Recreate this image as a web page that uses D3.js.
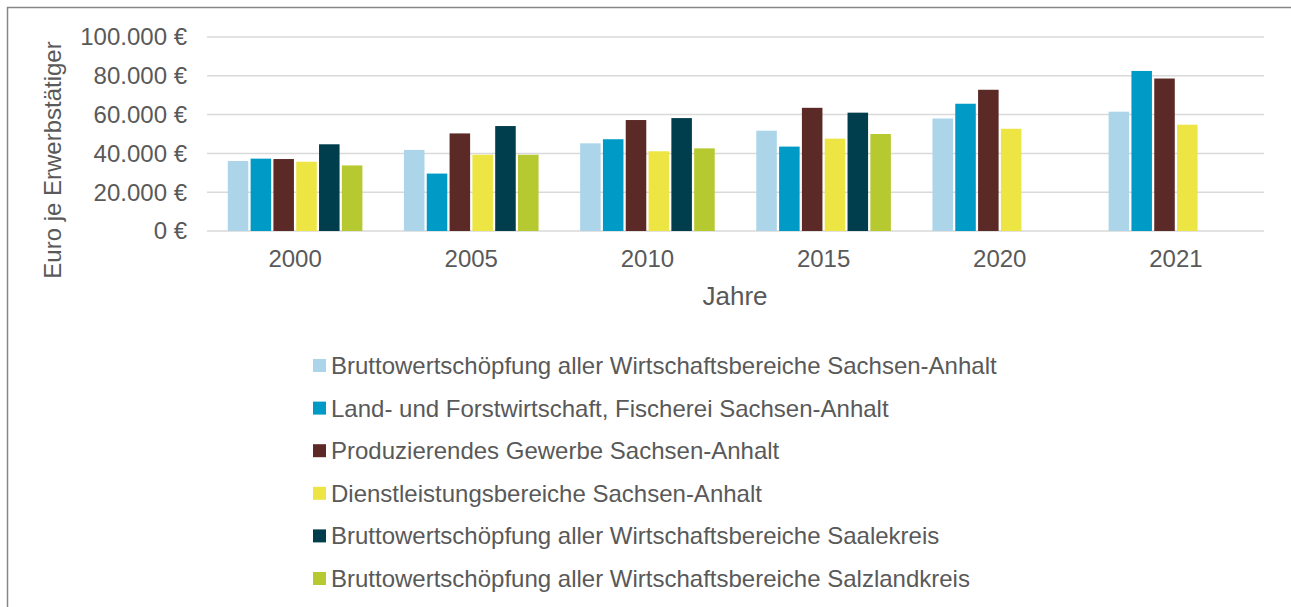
<!DOCTYPE html>
<html>
<head>
<meta charset="utf-8">
<script src="https://cdn.jsdelivr.net/npm/d3@7/dist/d3.min.js"></script>
<style>
  html, body { margin: 0; padding: 0; background: #fff; }
  svg { display: block; font-family: "Liberation Sans", Arial, sans-serif; }
</style>
</head>
<body>
<svg id="chart" width="1291" height="607"></svg>
<script>
const years = ["2000", "2005", "2010", "2015", "2020", "2021"];
const seriesNames = [
  "Bruttowertschöpfung aller Wirtschaftsbereiche Sachsen-Anhalt",
  "Land- und Forstwirtschaft, Fischerei Sachsen-Anhalt",
  "Produzierendes Gewerbe Sachsen-Anhalt",
  "Dienstleistungsbereiche Sachsen-Anhalt",
  "Bruttowertschöpfung aller Wirtschaftsbereiche Saalekreis",
  "Bruttowertschöpfung aller Wirtschaftsbereiche Salzlandkreis"
];
const bwsSachsenAnhalt   = [36100, 41800, 45200, 51700, 58000, 61500];
const landForst          = [37300, 29600, 47300, 43500, 65600, 82500];
const produzierend       = [37100, 50300, 57200, 63500, 72800, 78600];
const dienstleistung     = [35700, 39300, 41100, 47600, 52700, 54800];
const bwsSaalekreis      = [44700, 54100, 58200, 61000, null, null];
const bwsSalzlandkreis   = [33800, 39300, 42600, 50000, null, null];
const seriesValues = [bwsSachsenAnhalt, landForst, produzierend, dienstleistung, bwsSaalekreis, bwsSalzlandkreis];
const colors = ["#ADD5EA", "#009AC6", "#5B2A26", "#EDE544", "#003D4D", "#B7C931"];
const yTicks = [0, 20000, 40000, 60000, 80000, 100000];

const svg = d3.select("#chart");

// outer border
svg.append("rect")
  .attr("x", 7.5).attr("y", 7.5)
  .attr("width", 1300).attr("height", 620)
  .attr("fill", "none").attr("stroke", "#878787").attr("stroke-width", 1.5);

const plotLeft = 207, plotRight = 1264, plotTop = 37, plotBottom = 231;

const y = d3.scaleLinear().domain([0, 100000]).range([plotBottom, plotTop]);
const x0 = d3.scaleBand().domain(years).range([plotLeft, plotRight])
  .paddingInner(0.223).paddingOuter(0.1115);
const x1 = d3.scaleBand().domain(d3.range(seriesNames.length)).range([0, x0.bandwidth()])
  .paddingInner(0.1).paddingOuter(0.05);

// gridlines
svg.append("g").selectAll("line").data(yTicks).join("line")
  .attr("x1", plotLeft).attr("x2", plotRight)
  .attr("y1", d => y(d)).attr("y2", d => y(d))
  .attr("stroke", "#D9D9D9").attr("stroke-width", 1.5);

// y tick labels
const fmt = d => d3.format(",")(d).replace(/,/g, ".") + " €";
svg.append("g").selectAll("text").data(yTicks).join("text")
  .attr("x", 187).attr("y", d => y(d)).attr("dy", "0.35em")
  .attr("text-anchor", "end").attr("font-size", 24).attr("fill", "#595959")
  .text(fmt);

// bars
const groups = svg.append("g").selectAll("g").data(years).join("g")
  .attr("transform", d => `translate(${x0(d)},0)`);
groups.selectAll("rect")
  .data((yr, i) => seriesValues.map((vals, s) => ({ s, v: vals[i] })).filter(d => d.v != null))
  .join("rect")
  .attr("x", d => x1(d.s))
  .attr("width", x1.bandwidth())
  .attr("y", d => y(d.v))
  .attr("height", d => y(0) - y(d.v))
  .attr("fill", d => colors[d.s]);

// x labels
svg.append("g").selectAll("text").data(years).join("text")
  .attr("x", d => x0(d) + x0.bandwidth() / 2)
  .attr("y", 267)
  .attr("text-anchor", "middle").attr("font-size", 24).attr("fill", "#595959")
  .text(d => d);

// axis titles
svg.append("text")
  .attr("x", 735).attr("y", 305)
  .attr("text-anchor", "middle").attr("font-size", 26).attr("fill", "#595959")
  .text("Jahre");
svg.append("text")
  .attr("transform", "translate(61,160) rotate(-90)")
  .attr("text-anchor", "middle").attr("font-size", 24).attr("fill", "#595959")
  .text("Euro je Erwerbstätiger");

// legend
const legend = svg.append("g").selectAll("g").data(seriesNames).join("g")
  .attr("transform", (d, i) => `translate(313,${365.5 + i * 42.6})`);
legend.append("rect")
  .attr("x", 0).attr("y", -6.5).attr("width", 13).attr("height", 13)
  .attr("fill", (d, i) => colors[i]);
legend.append("text")
  .attr("x", 18).attr("y", 0).attr("dy", "0.35em")
  .attr("font-size", 24).attr("fill", "#595959")
  .text(d => d);
</script>
</body>
</html>
